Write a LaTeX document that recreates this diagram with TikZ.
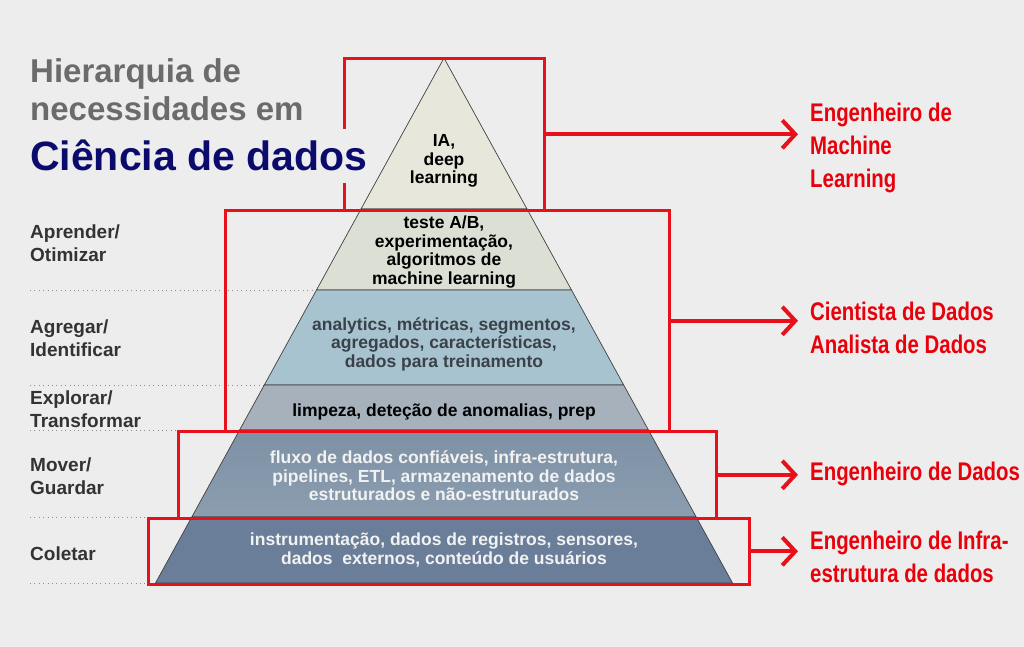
\documentclass[tikz,border=0pt]{standalone}
\usepackage{fontspec}
\setmainfont{Liberation Sans}
\newfontfamily\narrowfont[FakeStretch=0.8]{Liberation Sans}
\usetikzlibrary{arrows.meta}
\definecolor{bg}{HTML}{EDEDED}
\definecolor{titlegray}{HTML}{6B6B6B}
\definecolor{navy}{HTML}{0B0B6E}
\definecolor{labgray}{HTML}{333333}
\definecolor{boxred}{HTML}{E8101A}
\definecolor{rolered}{HTML}{E8000B}
\definecolor{cIA}{HTML}{E8E7DB}
\definecolor{cAB}{HTML}{DCDFD4}
\definecolor{cAN}{HTML}{A8C3D0}
\definecolor{cLI}{HTML}{A6B1BC}
\definecolor{cFLt}{HTML}{7E91A5}
\definecolor{cFLb}{HTML}{8B9DAF}
\definecolor{cIN}{HTML}{6A7E99}
\definecolor{antext}{HTML}{3A4148}
\begin{document}
\begin{tikzpicture}[x=1pt,y=-1pt,
  layer/.style={draw=black!75, line width=0.7pt},
  layertext/.style={font=\fontsize{17.5}{18.5}\selectfont\bfseries, align=center, inner sep=0pt},
  leftlab/.style={font=\fontsize{19}{23}\selectfont\bfseries, text=labgray, align=left, anchor=west, inner sep=0pt},
  role/.style={font=\narrowfont\bfseries\fontsize{25.5}{33}\selectfont, text=rolered, align=left, anchor=west, inner sep=0pt},
  redbox/.style={draw=boxred, line width=2.6pt, inner sep=0pt, anchor=north west},
  conn/.style={draw=boxred, line width=4pt, shorten >=12pt, -{Straight Barb[length=13pt,width=28pt]}},
  dotline/.style={draw=black!45, line width=0.8pt, dash pattern=on 0.8pt off 3.6pt}
]
\useasboundingbox[fill=bg] (0,0) rectangle (1024,647);

% dotted guide lines
\draw[dotline] (30,290) -- (316.5,290);
\draw[dotline] (30,385) -- (264.3,385);
\draw[dotline] (30,430) -- (239.6,430);
\draw[dotline] (30,517) -- (191.8,517);
\draw[dotline] (30,583) -- (155.5,583);

% pyramid layers
\draw[layer, fill=cIA] (444,58) -- (527,209) -- (361,209) -- cycle;
\draw[layer, fill=cAB] (361,209) -- (527,209) -- (571.5,290) -- (316.5,290) -- cycle;
\draw[layer, fill=cAN] (316.5,290) -- (571.5,290) -- (623.7,385) -- (264.3,385) -- cycle;
\draw[layer, fill=cLI] (264.3,385) -- (623.7,385) -- (648.4,430) -- (239.6,430) -- cycle;
\draw[layer, top color=cFLt, bottom color=cFLb] (239.6,430) -- (648.4,430) -- (696.2,517) -- (191.8,517) -- cycle;
\draw[layer, fill=cIN] (191.8,517) -- (696.2,517) -- (732.5,583) -- (155.5,583) -- cycle;

% layer texts
\node[layertext, text=black] (tIA) at (444,161) {IA,\\deep\\learning};
\node[layertext, text=black] (tAB) at (444,252) {teste A/B,\\experimentação,\\algoritmos de\\machine learning};
\node[layertext, text=antext] (tAN) at (444,344) {analytics, métricas, segmentos,\\agregados, características,\\dados para treinamento};
\node[layertext, text=black] (tLI) at (444,412) {limpeza, deteção de anomalias, prep};
\node[layertext, text=white!95!black] (tFL) at (444,476) {fluxo de dados confiáveis, infra-estrutura,\\pipelines, ETL, armazenamento de dados\\estruturados e não-estruturados};
\node[layertext, text=white!95!black] (tIN) at (444,550) {instrumentação, dados de registros, sensores,\\dados\ \ externos, conteúdo de usuários};

% red boxes
\node[redbox, minimum width=200pt, minimum height=152pt] (b1) at (343,57) {};
\node[redbox, minimum width=444pt, minimum height=221pt] (b2) at (224,209) {};
\node[redbox, minimum width=538pt, minimum height=87pt] (b3) at (177,430) {};
\node[redbox, minimum width=601pt, minimum height=66pt] (b4) at (147,517) {};

% title
\node[anchor=base west, font=\fontsize{33}{37}\selectfont\bfseries, text=titlegray, inner sep=0pt] (t1) at (30,83) {Hierarquia de};
\node[anchor=base west, font=\fontsize{33}{37}\selectfont\bfseries, text=titlegray, inner sep=0pt] (t2) at (30,121) {necessidades em};
\node[anchor=base west, font=\fontsize{41}{45}\selectfont\bfseries, text=navy, fill=bg, inner xsep=0pt, inner ysep=12pt, text height=30pt, text depth=0pt] (t3) at (30,171) {Ciência de dados};

% left labels
\node[leftlab] (l1) at (30,243) {Aprender/\\Otimizar};
\node[leftlab] (l2) at (30,338) {Agregar/\\Identificar};
\node[leftlab] (l3) at (30,409) {Explorar/\\Transformar};
\node[leftlab] (l4) at (30,476) {Mover/\\Guardar};
\node[leftlab] (l5) at (30,554) {Coletar};

% role labels
\node[role] (r1) at (810,148) {Engenheiro de\\Machine\\Learning};
\node[role] (r2) at (810,328) {Cientista de Dados\\Analista de Dados};
\node[role] (r3) at (810,474) {Engenheiro de Dados};
\node[role] (r4) at (810,557) {Engenheiro de Infra-\\estrutura de dados};

% connectors
\draw[conn] (b1.east) -- (b1.east -| r1.west);
\draw[conn] (b2.east) -- (b2.east -| r2.west);
\draw[conn] (b3.east) -- (b3.east -| r3.west);
\draw[conn] (b4.east) -- (b4.east -| r4.west);
\end{tikzpicture}
\end{document}
